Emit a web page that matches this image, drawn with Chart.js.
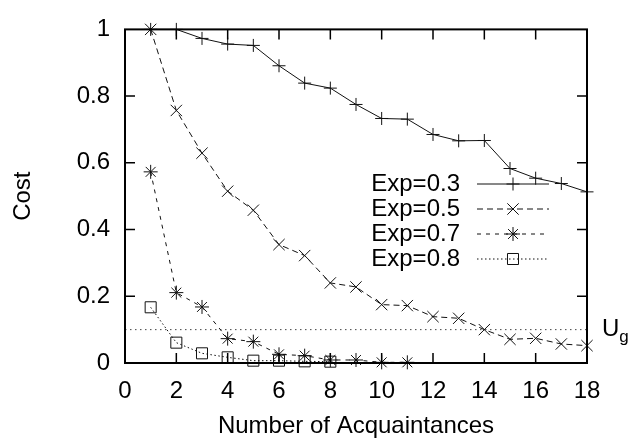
<!DOCTYPE html>
<html>
<head>
<meta charset="utf-8">
<script src="https://cdn.jsdelivr.net/npm/chart.js@4.4.1/dist/chart.umd.min.js"></script>
<style>
  html, body { margin: 0; padding: 0; background: #fff; }
  #wrap { width: 630px; height: 441px; }
</style>
</head>
<body>
<div id="wrap"><canvas id="c" width="630" height="441"></canvas></div>
<script>
// Number of acquaintances (x) and the cost measured for each exponent
const acquaintances = [1, 2, 3, 4, 5, 6, 7, 8, 9, 10, 11, 12, 13, 14, 15, 16, 17, 18];
const costExp03 = [1.0, 1.0, 0.973, 0.956, 0.952, 0.891, 0.839, 0.824, 0.775, 0.733, 0.731, 0.685, 0.666, 0.667, 0.583, 0.554, 0.538, 0.513];
const costExp05 = [1.0, 0.757, 0.629, 0.515, 0.458, 0.355, 0.322, 0.240, 0.228, 0.175, 0.172, 0.139, 0.134, 0.100, 0.071, 0.074, 0.057, 0.052];
const costExp07 = [0.573, 0.211, 0.168, 0.073, 0.064, 0.026, 0.022, 0.009, 0.009, 0.002, 0.002];
const costExp08 = [0.167, 0.061, 0.029, 0.017, 0.007, 0.007, 0.005, 0.004];
const seriesLabels = ['Exp=0.3', 'Exp=0.5', 'Exp=0.7', 'Exp=0.8'];
const thresholdUg = 0.1;
const xRange = [0, 18];
const yRange = [0, 1];
const xTickStep = 2;
const yTickStep = 0.2;

const FONT = 'Liberation Sans, Arial, Helvetica, sans-serif';
const FS = 24;

function toPoints(values) {
  return values.map((v, i) => ({ x: acquaintances[i], y: v }));
}

const ink = '#111';
const datasets = [
  { label: seriesLabels[0], data: toPoints(costExp03), borderDash: [], pointStyle: 'cross', pointRadius: 6.5 },
  { label: seriesLabels[1], data: toPoints(costExp05), borderDash: [6, 4], pointStyle: 'crossRot', pointRadius: 8 },
  { label: seriesLabels[2], data: toPoints(costExp07), borderDash: [4, 5], pointStyle: 'star', pointRadius: 7 },
  { label: seriesLabels[3], data: toPoints(costExp08), borderDash: [1.5, 2.5], pointStyle: 'rect', pointRadius: 7.8 }
].map(d => Object.assign({
  borderColor: ink,
  pointBorderColor: ink,
  backgroundColor: 'rgba(0,0,0,0)',
  pointBackgroundColor: 'rgba(0,0,0,0)',
  borderWidth: 1,
  pointBorderWidth: 1,
  pointHoverRadius: 0,
  tension: 0,
  fill: false,
  clip: false,
  inLegend: true
}, d));

// horizontal threshold U_g
datasets.push({
  label: 'U_g',
  data: [{ x: xRange[0], y: thresholdUg }, { x: xRange[1], y: thresholdUg }],
  borderColor: '#444',
  borderWidth: 1,
  borderDash: [1.5, 3.5],
  pointRadius: 0,
  fill: false,
  clip: false,
  inLegend: false
});

// frame with inward ticks mirrored on all four sides, plus legend and U_g label
const framePlugin = {
  id: 'frame',
  afterDatasetsDraw(chart) {
    const { ctx, chartArea: a, scales } = chart;
    const xs = scales.x, ys = scales.y;
    ctx.save();
    ctx.strokeStyle = '#000';
    ctx.lineWidth = 1.5;
    const tl = 10;
    ctx.beginPath();
    xs.ticks.forEach(t => {
      if (t.value <= xRange[0] || t.value >= xRange[1]) return;
      const px = xs.getPixelForValue(t.value);
      ctx.moveTo(px, a.bottom); ctx.lineTo(px, a.bottom - tl);
      ctx.moveTo(px, a.top); ctx.lineTo(px, a.top + tl);
    });
    ys.ticks.forEach(t => {
      if (t.value <= yRange[0] || t.value >= yRange[1]) return;
      const py = ys.getPixelForValue(t.value);
      ctx.moveTo(a.left, py); ctx.lineTo(a.left + tl, py);
      ctx.moveTo(a.right, py); ctx.lineTo(a.right - tl, py);
    });
    ctx.stroke();
    ctx.lineWidth = 2;
    ctx.strokeRect(a.left, a.top, a.right - a.left, a.bottom - a.top);

    // U_g label next to the threshold line
    const uy = ys.getPixelForValue(thresholdUg);
    ctx.fillStyle = '#000';
    ctx.textBaseline = 'middle';
    ctx.textAlign = 'left';
    ctx.font = FS + 'px ' + FONT;
    ctx.fillText('U', a.right + 15, uy);
    const uw = ctx.measureText('U').width;
    ctx.font = '17px ' + FONT;
    ctx.fillText('g', a.right + 15 + uw, uy + 8);

    // legend: right-aligned text, then line sample with its marker
    const rows = chart.data.datasets.filter(d => d.inLegend);
    const textRight = 460, lineL = 477, lineR = 549, rowTop = 184, rowGap = 25;
    rows.forEach((d, i) => {
      const y = rowTop + i * rowGap;
      ctx.font = FS + 'px ' + FONT;
      ctx.textAlign = 'right';
      ctx.textBaseline = 'middle';
      ctx.fillStyle = '#000';
      ctx.fillText(d.label, textRight, y);
      ctx.strokeStyle = d.borderColor;
      ctx.lineWidth = d.borderWidth;
      ctx.setLineDash(d.borderDash);
      ctx.beginPath();
      ctx.moveTo(lineL, y); ctx.lineTo(lineR, y);
      ctx.stroke();
      ctx.setLineDash([]);
      ctx.strokeStyle = d.pointBorderColor;
      ctx.fillStyle = 'rgba(0,0,0,0)';
      Chart.helpers.drawPoint(ctx, {
        pointStyle: d.pointStyle,
        radius: d.pointRadius,
        borderWidth: d.pointBorderWidth,
        rotation: 0
      }, (lineL + lineR) / 2, y);
    });
    ctx.restore();
  }
};

new Chart(document.getElementById('c'), {
  type: 'line',
  data: { datasets },
  options: {
    responsive: false,
    animation: false,
    devicePixelRatio: 1,
    events: [],
    layout: { padding: { left: 0, right: 43, top: 15, bottom: 0 } },
    plugins: { legend: { display: false }, tooltip: { enabled: false } },
    scales: {
      x: {
        type: 'linear',
        min: xRange[0], max: xRange[1],
        grid: { display: false, drawTicks: false },
        border: { display: false },
        ticks: { stepSize: xTickStep, padding: 14, color: '#000', font: { family: FONT, size: FS }, maxRotation: 0 },
        title: { display: true, text: 'Number of Acquaintances', color: '#000', font: { family: FONT, size: FS }, padding: { top: 0, bottom: 0 } },
        afterFit(s) { s.height = 78; }
      },
      y: {
        min: yRange[0], max: yRange[1],
        grid: { display: false, drawTicks: false },
        border: { display: false },
        ticks: { stepSize: yTickStep, padding: 15, color: '#000', font: { family: FONT, size: FS },
          callback: v => String(Math.round(v * 10) / 10) },
        title: { display: true, text: 'Cost', color: '#000', font: { family: FONT, size: FS }, padding: { top: 9, bottom: 0 } },
        afterFit(s) { s.width = 125; }
      }
    }
  },
  plugins: [framePlugin]
});
</script>
</body>
</html>
